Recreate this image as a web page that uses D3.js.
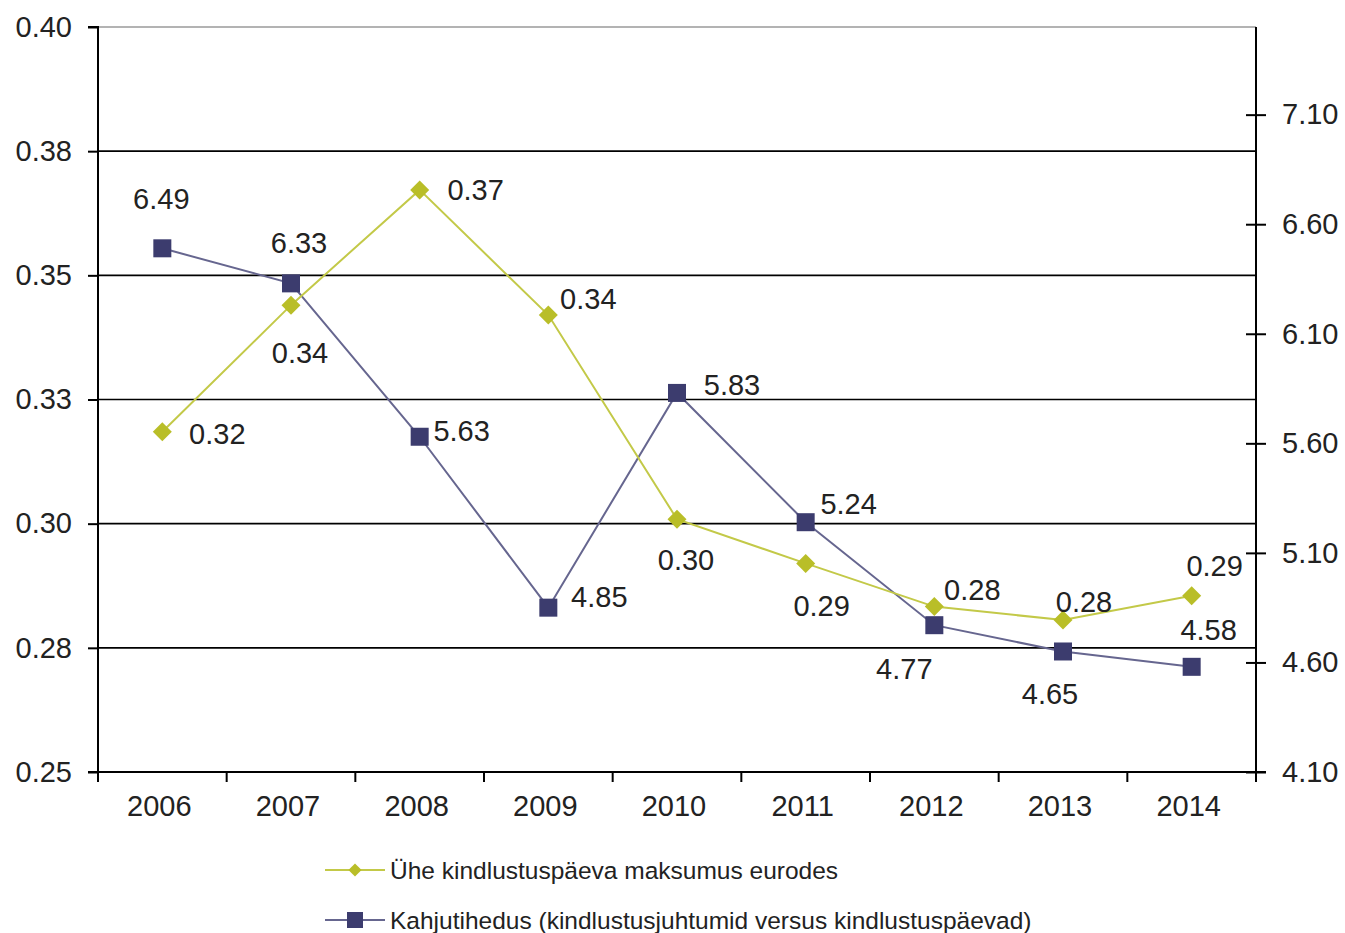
<!DOCTYPE html>
<html>
<head>
<meta charset="utf-8">
<script src="https://cdn.jsdelivr.net/npm/d3@7"></script>
<style>
  html, body { margin: 0; padding: 0; background: #fff; }
  svg { display: block; font-family: "Liberation Sans", Arial, sans-serif; }
</style>
</head>
<body>
<svg id="chart" width="1345" height="933"></svg>
<script>
// ---- data ----
const years = ["2006", "2007", "2008", "2009", "2010", "2011", "2012", "2013", "2014"];
const costPerDay = [0.3185, 0.3440, 0.3672, 0.3420, 0.3009, 0.2920, 0.2833, 0.2806, 0.2855];
const claimDensity = [6.49, 6.33, 5.63, 4.85, 5.83, 5.24, 4.77, 4.65, 4.58];
const leftTicks = [0.25, 0.275, 0.30, 0.325, 0.35, 0.375, 0.40];
const leftTickLabels = ["0.25", "0.28", "0.30", "0.33", "0.35", "0.38", "0.40"];
const rightTicks = [4.10, 4.60, 5.10, 5.60, 6.10, 6.60, 7.10];
const rightTickLabels = ["4.10", "4.60", "5.10", "5.60", "6.10", "6.60", "7.10"];
const seriesNames = ["Ühe kindlustuspäeva maksumus eurodes",
                     "Kahjutihedus (kindlustusjuhtumid versus kindlustuspäevad)"];

// label placement offsets (layout only)
const costLabelOffsets = [[55, 2], [9, 48], [56, 0], [40, -16], [9, 41], [16, 42], [38, -17], [21, -18], [23, -30]];
const densityLabelOffsets = [[-1, -49], [8, -41], [42, -6], [51, -11], [55, -8], [43, -18], [-30, 44], [-13, 42], [17, -37]];

// ---- layout ----
const svg = d3.select("#chart");
const L = 98, R = 1256, T = 27, B = 772;
const olive = "#b9be28", oliveLine = "#c3c948";
const navy = "#3c3c6e", navyLine = "#66668f";
const textColor = "#222";
const fs = 29;

const x = d3.scaleBand().domain(years).range([L, R]).padding(0);
const yL = d3.scaleLinear().domain([0.25, 0.40]).range([B, T]);
const yR = d3.scaleLinear().domain([4.10, 7.50]).range([B, T]);
const cx = d => x(d) + x.bandwidth() / 2;

// gridlines
svg.append("g").selectAll("line")
  .data(leftTicks.filter(t => t > 0.25 && t < 0.40))
  .join("line")
  .attr("x1", L).attr("x2", R)
  .attr("y1", d => yL(d)).attr("y2", d => yL(d))
  .attr("stroke", "#000").attr("stroke-width", 1.6);

// top border (gray)
svg.append("line").attr("x1", L).attr("x2", R).attr("y1", yL(0.40)).attr("y2", yL(0.40))
  .attr("stroke", "#9a9a9a").attr("stroke-width", 1.6);

// left axis
const leftAxis = d3.axisLeft(yL).tickValues(leftTicks)
  .tickFormat((d, i) => leftTickLabels[i]).tickSize(10).tickPadding(16);
const gL = svg.append("g").attr("transform", `translate(${L},0)`).call(leftAxis);
gL.select(".domain").attr("stroke", "#000").attr("stroke-width", 2).attr("d", `M-10,${T}H0V${B}H-10`);
gL.selectAll(".tick line").attr("stroke", "#000").attr("stroke-width", 2);
gL.selectAll(".tick text").attr("font-size", fs).attr("fill", textColor)
  .attr("font-family", "Liberation Sans, Arial, sans-serif");

// right axis (cross ticks)
const rightAxis = d3.axisRight(yR).tickValues(rightTicks)
  .tickFormat((d, i) => rightTickLabels[i]).tickSize(10).tickPadding(16);
const gR = svg.append("g").attr("transform", `translate(${R},0)`).call(rightAxis);
gR.select(".domain").attr("stroke", "#000").attr("stroke-width", 2).attr("d", `M0,${T}V${B}`);
gR.selectAll(".tick line").attr("stroke", "#000").attr("stroke-width", 2).attr("x1", -10).attr("x2", 10);
gR.selectAll(".tick text").attr("font-size", fs).attr("fill", textColor)
  .attr("font-family", "Liberation Sans, Arial, sans-serif");
gR.append("line").attr("x1", -10).attr("x2", 10).attr("y1", B).attr("y2", B).attr("stroke", "#000").attr("stroke-width", 2);

// bottom axis
const xTickPos = years.map(y => x(y)).concat([R]);
const gB = svg.append("g");
gB.append("line").attr("x1", L - 10).attr("x2", R).attr("y1", B).attr("y2", B)
  .attr("stroke", "#000").attr("stroke-width", 2);
gB.selectAll("line.xt").data(xTickPos).join("line").attr("class", "xt")
  .attr("x1", d => d).attr("x2", d => d).attr("y1", B).attr("y2", B + 10)
  .attr("stroke", "#000").attr("stroke-width", 2);
gB.selectAll("text").data(years).join("text")
  .attr("x", d => cx(d) - 3).attr("y", B + 34)
  .attr("dy", "0.35em")
  .attr("text-anchor", "middle").attr("font-size", fs).attr("fill", textColor)
  .text(d => d);

// series lines
const costData = years.map((yr, i) => ({ yr, v: costPerDay[i] }));
const densData = years.map((yr, i) => ({ yr, v: claimDensity[i] }));

svg.append("path").datum(densData)
  .attr("fill", "none").attr("stroke", navyLine).attr("stroke-width", 2)
  .attr("d", d3.line().x(d => cx(d.yr)).y(d => yR(d.v)));
svg.append("path").datum(costData)
  .attr("fill", "none").attr("stroke", oliveLine).attr("stroke-width", 2)
  .attr("d", d3.line().x(d => cx(d.yr)).y(d => yL(d.v)));

// markers
const sq = 18;
svg.append("g").selectAll("rect").data(densData).join("rect")
  .attr("x", d => cx(d.yr) - sq / 2).attr("y", d => yR(d.v) - sq / 2)
  .attr("width", sq).attr("height", sq).attr("fill", navy);

const diamond = d3.symbol().type(d3.symbolDiamond2).size(230);
svg.append("g").selectAll("path").data(costData).join("path")
  .attr("transform", d => `translate(${cx(d.yr)},${yL(d.v)})`)
  .attr("d", diamond).attr("fill", olive);

// data labels
svg.append("g").selectAll("text").data(costData).join("text")
  .attr("x", (d, i) => cx(d.yr) + costLabelOffsets[i][0])
  .attr("y", (d, i) => yL(d.v) + costLabelOffsets[i][1])
  .attr("dy", "0.35em").attr("text-anchor", "middle")
  .attr("font-size", fs).attr("fill", textColor)
  .text(d => d3.format(".2f")(d.v));

svg.append("g").selectAll("text").data(densData).join("text")
  .attr("x", (d, i) => cx(d.yr) + densityLabelOffsets[i][0])
  .attr("y", (d, i) => yR(d.v) + densityLabelOffsets[i][1])
  .attr("dy", "0.35em").attr("text-anchor", "middle")
  .attr("font-size", fs).attr("fill", textColor)
  .text(d => d3.format(".2f")(d.v));

// legend
const leg = svg.append("g");
const legY = [870, 920];
leg.append("line").attr("x1", 325).attr("x2", 385).attr("y1", legY[0]).attr("y2", legY[0])
  .attr("stroke", oliveLine).attr("stroke-width", 2);
leg.append("path").attr("transform", `translate(355,${legY[0]})`)
  .attr("d", d3.symbol().type(d3.symbolDiamond2).size(110)).attr("fill", olive);
leg.append("text").attr("x", 390).attr("y", legY[0]).attr("dy", "0.35em")
  .attr("font-size", 24.5).attr("fill", textColor).text(seriesNames[0]);
leg.append("line").attr("x1", 325).attr("x2", 385).attr("y1", legY[1]).attr("y2", legY[1])
  .attr("stroke", navyLine).attr("stroke-width", 2);
leg.append("rect").attr("x", 347).attr("y", legY[1] - 8).attr("width", 16).attr("height", 16).attr("fill", navy);
leg.append("text").attr("x", 390).attr("y", legY[1]).attr("dy", "0.35em")
  .attr("font-size", 24.5).attr("fill", textColor).text(seriesNames[1]);
</script>
</body>
</html>
